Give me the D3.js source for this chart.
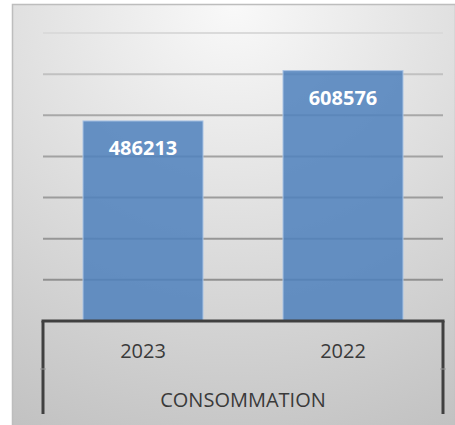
<!DOCTYPE html>
<html>
<head>
<meta charset="utf-8">
<script src="https://cdn.jsdelivr.net/npm/d3@7"></script>
<style>
  body { margin: 0; background: #fff; }
  text { font-family: "Open Sans", "Liberation Sans", sans-serif; }
</style>
</head>
<body>
<div id="canvas"></div>
<script>
var categories = ['2023', '2022'];
var values = [486213, 608576];
var groupLabel = 'CONSOMMATION';
var yTicks = [0, 100000, 200000, 300000, 400000, 500000, 600000, 700000];

var outerWidth = 455, outerHeight = 425;
var m = {t: 33, r: 12, b: 104, l: 43};
var w = outerWidth - m.l - m.r,
    h = outerHeight - m.t - m.b;

var svg = d3.select('#canvas')
    .append('svg')
    .attr('width', outerWidth)
    .attr('height', outerHeight);

// background gradient
var defs = svg.append('defs');
var grad = defs.append('radialGradient')
    .attr('id', 'bg')
    .attr('cx', '50%').attr('cy', '0%')
    .attr('r', '110%');
grad.append('stop').attr('offset', '0%').attr('stop-color', '#f9f9f9');
grad.append('stop').attr('offset', '100%').attr('stop-color', '#c2c2c2');

svg.append('rect')
    .attr('x', 12.5).attr('y', 4.5)
    .attr('width', outerWidth - 12).attr('height', outerHeight)
    .attr('fill', 'url(#bg)')
    .attr('stroke', '#bdbdbd')
    .attr('stroke-width', 1.5);

var plot = svg.append('g')
    .attr('transform', 'translate(' + m.l + ',' + m.t + ')');

var scaleY = d3.scaleLinear()
    .domain([0, 700000])
    .range([h, 0]);

var scaleX = d3.scaleBand()
    .domain(categories)
    .range([0, w])
    .paddingInner(0.4)
    .paddingOuter(0.2);

var gridColor = d3.scaleLinear()
    .domain([700000, 500000, 0])
    .range(['#dadada', '#a8a8a8', '#8a8a8a']);

// gridlines
plot.selectAll('.grid')
    .data(yTicks.filter(function(d){ return d > 0; }))
    .enter()
    .append('line')
    .attr('class', 'grid')
    .attr('x1', 0).attr('x2', w)
    .attr('y1', function(d){ return scaleY(d); })
    .attr('y2', function(d){ return scaleY(d); })
    .attr('stroke', function(d){ return gridColor(d); })
    .attr('stroke-width', 2);

// bars
plot.selectAll('.bar')
    .data(values)
    .enter()
    .append('rect')
    .attr('class', 'bar')
    .attr('x', function(d, i){ return scaleX(categories[i]); })
    .attr('y', function(d){ return scaleY(d); })
    .attr('width', scaleX.bandwidth())
    .attr('height', function(d){ return h - scaleY(d); })
    .attr('fill', '#4f81bd')
    .attr('fill-opacity', 0.86)
    .attr('stroke', '#a9c3e4')
    .attr('stroke-width', 1);

// data labels
plot.selectAll('.lbl')
    .data(values)
    .enter()
    .append('text')
    .attr('class', 'lbl')
    .attr('x', function(d, i){ return scaleX(categories[i]) + scaleX.bandwidth() / 2; })
    .attr('y', function(d){ return scaleY(d) + 34; })
    .attr('text-anchor', 'middle')
    .attr('fill', '#fff')
    .style('font-size', '20px')
    .style('font-weight', 'bold')
    .text(function(d){ return d; });

// category axis (two levels)
var axisX = d3.axisBottom(scaleX).tickSize(0).tickPadding(23);
var gx = plot.append('g')
    .attr('class', 'axis axis-x')
    .attr('transform', 'translate(0,' + h + ')')
    .call(axisX);
gx.select('.domain').remove();
gx.selectAll('text')
    .style('font-size', '20px')
    .attr('fill', '#3a3a3a');

var ax = plot.append('g').attr('transform', 'translate(0,' + h + ')');
ax.append('line')
    .attr('x1', -1.5).attr('x2', w + 1.5)
    .attr('y1', 0).attr('y2', 0)
    .attr('stroke', '#404040').attr('stroke-width', 3);
ax.selectAll('.vline')
    .data([0, w])
    .enter()
    .append('line')
    .attr('x1', function(d){ return d; })
    .attr('x2', function(d){ return d; })
    .attr('y1', 0).attr('y2', 93)
    .attr('stroke', '#404040').attr('stroke-width', 3);
ax.selectAll('.mid')
    .data([0, w])
    .enter()
    .append('line')
    .attr('x1', function(d){ return d - 3; })
    .attr('x2', function(d){ return d + 3; })
    .attr('y1', 48).attr('y2', 48)
    .attr('stroke', '#9a9a9a').attr('stroke-width', 1);

ax.append('text')
    .attr('x', w / 2)
    .attr('y', 86)
    .attr('text-anchor', 'middle')
    .attr('fill', '#3a3a3a')
    .style('font-size', '20px')
    .text(groupLabel);
</script>
</body>
</html>
